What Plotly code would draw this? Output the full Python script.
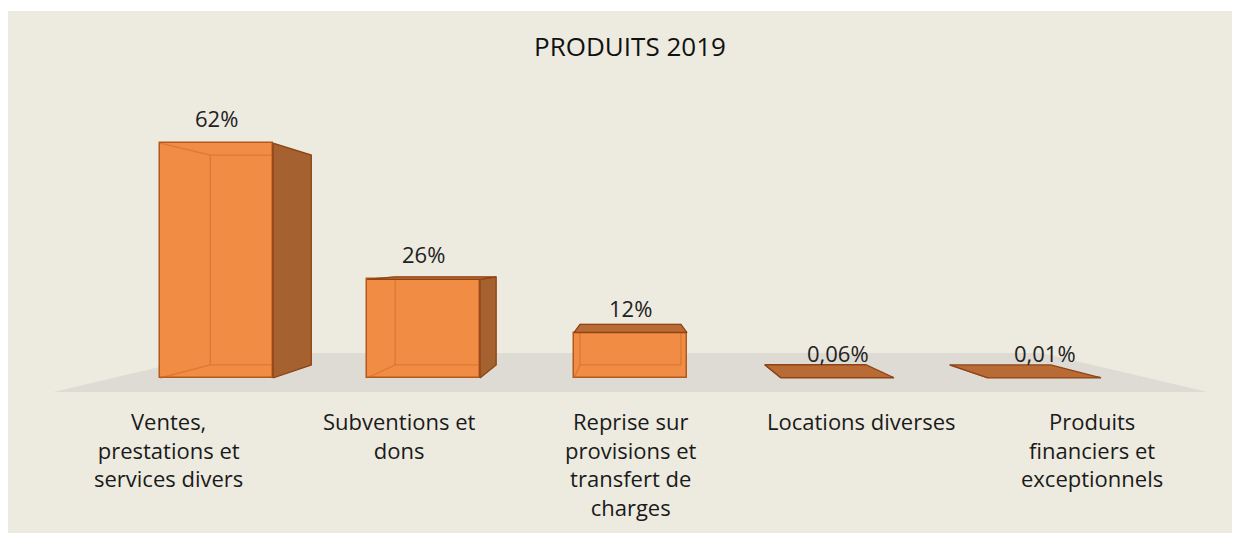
import plotly.graph_objects as go

# ---------------- data ----------------
categories = [
    "Ventes,<br>prestations et<br>services divers",
    "Subventions et<br>dons",
    "Reprise sur<br>provisions et<br>transfert de<br>charges",
    "Locations diverses",
    "Produits<br>financiers et<br>exceptionnels",
]
values = [62, 26, 12, 0.06, 0.01]
value_labels = ["62%", "26%", "12%", "0,06%", "0,01%"]
title_text = "PRODUITS 2019"

# ---------------- style / layout constants ----------------
W, H = 1240, 533
OFF = 8                      # page body margin
BG = "#EDEBE0"
FLOOR = "#DDDBD3"
FRONT = "#F08C44"
FRONT_EDGE = "#B4591C"
SIDE = "#A5612F"
TOP = "#B96B36"
EDGE = "#8E4414"
INNER = "rgba(205,100,35,0.5)"
FONT = "Open Sans"

BAR_W = 0.546
VPX, VPY = 2.0, 32.2          # vanishing point (axis units)
S_BACK = 0.893                # depth scale of bar back faces
S_FLOOR_FRONT, S_FLOOR_BACK = 1.115, 0.795

# pixel mapping of axes (margins 0), in figure pixels
PX0, PX_STEP = 216.5 - OFF, 207.0
PY0, PY_STEP = 378.0 - OFF, 3.79
x_range = [(0 - PX0) / PX_STEP, (W - PX0) / PX_STEP]
y_range = [(PY0 - H) / PY_STEP, (PY0 - 0) / PY_STEP]


def proj(x, y, s):
    return VPX + (x - VPX) * s, VPY + (y - VPY) * s


fig = go.Figure()

# front faces
fig.add_trace(go.Bar(
    x=list(range(len(values))), y=values, width=BAR_W,
    marker=dict(color=FRONT, line=dict(color=FRONT_EDGE, width=1.5)),
    hoverinfo="skip", showlegend=False,
))

for i, v in enumerate(values):
    xl, xr = i - BAR_W / 2, i + BAR_W / 2
    # inner (hidden) edges seen through the front face
    if v > 1:
        bl = proj(xl, 0, S_BACK); br = proj(xr, 0, S_BACK)
        tl = proj(xl, v, S_BACK); tr = proj(xr, v, S_BACK)
        xs = [xl, bl[0], br[0], None, xl, tl[0], tr[0], None, bl[0], tl[0], None, br[0], tr[0]]
        ys = [0, bl[1], br[1], None, v, tl[1], tr[1], None, bl[1], tl[1], None, br[1], tr[1]]
        fig.add_trace(go.Scatter(x=xs, y=ys, mode="lines",
                                 line=dict(color=INNER, width=1.3),
                                 hoverinfo="skip", showlegend=False))
    # side face
    if i < VPX - BAR_W / 2 or i > VPX + BAR_W / 2:
        xe = xr if i < VPX else xl
        b = proj(xe, 0, S_BACK); t = proj(xe, v, S_BACK)
        fig.add_trace(go.Scatter(
            x=[xe, xe, t[0], b[0], xe], y=[0, v, t[1], b[1], 0],
            mode="lines", fill="toself", fillcolor=SIDE,
            line=dict(color=EDGE, width=1.3),
            hoverinfo="skip", showlegend=False))
    # top face
    if v < VPY:
        a = proj(xl, v, S_BACK); c = proj(xr, v, S_BACK)
        fig.add_trace(go.Scatter(
            x=[xl, xr, c[0], a[0], xl], y=[v, v, c[1], a[1], v],
            mode="lines", fill="toself", fillcolor=TOP,
            line=dict(color=EDGE, width=1.3),
            hoverinfo="skip", showlegend=False))

# floor (perspective plane at y = 0)
n = len(values)
fl = proj(-0.5, 0, S_FLOOR_FRONT); fr = proj(n - 0.5, 0, S_FLOOR_FRONT)
bl = proj(-0.5, 0, S_FLOOR_BACK); br = proj(n - 0.5, 0, S_FLOOR_BACK)
floor_path = f"M {fl[0]},{fl[1]} L {fr[0]},{fr[1]} L {br[0]},{br[1]} L {bl[0]},{bl[1]} Z"

shapes = [
    dict(type="rect", xref="paper", yref="paper", x0=0, x1=1, y0=1 - 3 / H, y1=1,
         fillcolor="white", line=dict(width=0), layer="below"),
    dict(type="path", xref="x", yref="y", path=floor_path,
         fillcolor=FLOOR, line=dict(width=0), layer="below"),
]

annotations = []
for i, (v, lab) in enumerate(zip(values, value_labels)):
    annotations.append(dict(x=i, y=v, text=lab, showarrow=False, yanchor="middle",
                            yshift=25, font=dict(family=FONT, size=22, color="#222222")))
for i, cat in enumerate(categories):
    # category labels sit on the front edge of the floor (perspective)
    lx = proj(i, 0, S_FLOOR_FRONT)[0]
    annotations.append(dict(x=lx, y=(PY0 - (404 - OFF)) / PY_STEP, text=cat, showarrow=False,
                            yanchor="top", xanchor="center", align="center",
                            font=dict(family=FONT, size=22, color="#1a1a1a")))

fig.update_layout(
    width=W, height=H,
    margin=dict(l=0, r=0, t=0, b=0),
    paper_bgcolor=BG, plot_bgcolor="rgba(0,0,0,0)",
    title=dict(text=title_text, x=(630 - OFF) / W, xanchor="center", xref="paper",
               y=1 - (47 - OFF) / H, yanchor="middle", yref="container",
               font=dict(family=FONT, size=26, color="#111111")),
    xaxis=dict(range=x_range, visible=False, fixedrange=True),
    yaxis=dict(range=y_range, visible=False, fixedrange=True),
    shapes=shapes, annotations=annotations,
    bargap=0, showlegend=False,
)

fig.write_html("out.html")
